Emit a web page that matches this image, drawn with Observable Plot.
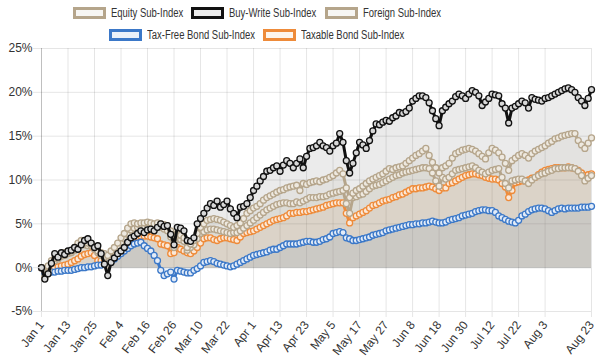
<!DOCTYPE html>
<html><head><meta charset="utf-8">
<script src="https://cdn.jsdelivr.net/npm/d3@7"></script>
<script src="https://cdn.jsdelivr.net/npm/@observablehq/plot@0.6"></script>
<style>
body{margin:0;background:#fff;font-family:"Liberation Sans",Arial,Helvetica,sans-serif;}
#legend{width:600px;height:40px;box-sizing:border-box;padding-right:86px;padding-top:2px;}
.row{display:flex;justify-content:center;height:22px;align-items:center;}
.item{display:flex;align-items:center;margin:0 4px;font-size:12px;color:#333;}
.item .txt{display:inline-block;transform:scaleX(0.79);transform-origin:0 50%;white-space:nowrap;}
.box{width:27px;height:6px;border:3px solid;margin-right:5px;}
</style></head>
<body>
<div id="legend"></div>
<div id="chart"></div>
<script>
const xTickIndex = [0,8,16,24,32,40,48,56,64,72,80,88,96,104,112,120,128,136,144,152,166];
const xTickLabels = ["Jan 1","Jan 13","Jan 25","Feb 4","Feb 16","Feb 26","Mar 10","Mar 22","Apr 1","Apr 13","Apr 23","May 5","May 17","May 27","Jun 8","Jun 18","Jun 30","Jul 12","Jul 22","Aug 3","Aug 23"];
const yTicks = [-5,0,5,10,15,20,25];

const seriesNames = ["Equity Sub-Index","Buy-Write Sub-Index","Foreign Sub-Index","Tax-Free Bond Sub-Index","Taxable Bond Sub-Index"];

const buyWrite = [
0,-1.3,-0.7,0.5,1.6,1.2,1.7,1.5,1.9,2.0,
2.3,2.1,2.6,3.1,3.3,2.8,2.3,2.5,1.6,0.4,
-0.9,0.6,1.1,1.6,1.9,2.3,2.9,3.4,3.6,3.9,
4.2,4.0,4.3,4.4,4.2,4.6,5.0,4.7,4.8,3.8,
2.6,4.6,4.5,4.2,3.1,3.0,3.4,5.0,5.6,6.2,
6.8,7.3,7.1,7.6,6.9,7.2,7.6,6.7,6.2,5.7,
6.9,7.0,7.3,8.0,8.8,9.3,9.9,10.4,11.0,11.1,
11.4,11.6,11.0,11.7,12.2,11.9,11.4,11.9,12.4,11.4,
12.7,13.6,13.7,13.9,14.3,13.9,13.7,13.3,13.9,14.2,
15.3,14.3,12.2,10.8,11.9,13.1,14.3,14.0,13.6,14.5,
15.6,16.4,16.3,16.6,16.8,16.7,17.1,17.3,17.7,17.6,
17.8,18.2,19.0,19.3,19.6,19.6,19.4,18.8,17.9,17.0,
16.2,17.9,18.3,18.7,19.0,19.5,19.8,19.6,19.3,19.8,
20.2,20.0,19.6,18.5,18.9,19.3,19.8,19.7,19.6,18.7,
18.2,16.5,18.2,18.4,18.7,19.0,18.8,18.2,19.4,19.2,
19.1,19.0,19.3,19.4,19.6,19.8,20.0,20.2,20.4,20.5,
20.3,20.0,19.4,19.0,18.5,19.3,20.3];

const equity = [
0,-1.0,0.2,0.8,1.1,1.3,1.6,1.7,1.8,1.9,
2.3,2.8,3.1,3.0,2.8,2.7,2.4,1.9,1.7,1.6,
1.4,1.9,2.3,2.8,3.4,3.9,4.5,5.0,5.1,5.0,
5.1,5.1,5.2,5.1,5.0,5.1,5.0,4.9,4.8,4.2,
3.0,3.9,3.7,3.4,2.3,2.7,3.1,3.9,4.6,5.0,
5.4,5.5,5.6,5.5,5.4,5.2,5.0,4.8,4.6,4.8,
5.1,5.6,6.2,6.5,6.8,7.0,7.3,7.7,8.0,8.2,
8.4,8.6,8.8,8.9,9.1,9.2,9.3,9.4,8.8,9.6,
9.5,9.7,9.8,9.9,9.8,10.0,10.1,10.3,10.5,10.8,
11.1,10.7,9.1,8.0,8.5,8.8,9.0,9.3,9.6,9.9,
10.1,10.3,10.5,10.7,11.0,11.3,11.2,11.4,11.5,11.6,
11.9,12.2,12.5,12.8,13.0,13.3,13.6,12.8,12.0,11.4,
10.8,11.4,11.6,11.9,12.5,13.0,13.2,13.4,13.5,13.6,
13.5,13.3,13.0,12.7,12.4,13.1,13.6,13.4,13.1,12.6,
11.9,11.1,12.2,12.5,12.8,13.0,12.8,12.5,13.0,13.3,
13.5,13.7,13.9,14.2,14.4,14.7,14.8,15.0,15.1,15.2,
15.3,15.3,14.5,14.0,13.6,14.2,14.8];

const foreign = [
0,-1.2,-0.3,0.5,0.8,1.0,1.3,1.4,1.6,1.7,
2.0,2.4,2.7,2.6,2.5,2.5,2.1,1.7,1.4,1.2,
0.3,1.1,1.8,2.3,2.9,3.3,3.8,4.3,4.5,4.6,
4.7,4.7,4.8,4.8,4.7,4.7,4.6,4.4,4.2,3.5,
2.3,3.3,3.2,3.0,2.0,2.3,2.6,3.3,3.9,4.1,
4.3,4.4,4.4,4.3,4.2,4.1,4.0,3.9,4.0,4.0,
4.2,4.5,4.8,5.1,5.4,5.7,6.0,6.3,6.6,6.8,
7.0,7.2,7.3,7.4,7.4,7.3,7.3,7.5,7.4,7.6,
7.8,8.0,8.0,8.0,8.1,8.1,8.2,8.4,8.5,8.6,
8.7,8.8,7.3,6.2,8.0,8.1,8.3,8.4,8.7,9.0,
9.3,9.4,9.5,9.7,9.9,10.1,10.3,10.5,10.6,10.8,
10.9,11.0,11.1,11.2,11.3,11.4,11.4,11.3,10.8,9.9,
9.3,10.3,10.1,10.3,10.7,11.1,11.2,11.3,11.4,11.5,
11.6,11.4,11.1,10.9,10.7,10.9,11.1,11.2,11.3,10.3,
9.6,9.1,9.9,10.0,10.1,10.1,9.9,9.6,10.0,10.3,
10.5,10.7,10.8,11.0,11.1,11.3,11.3,11.4,11.4,11.4,
11.4,11.3,11.0,10.5,9.9,10.2,10.5];

const taxFree = [
0,-0.7,-0.6,-0.5,-0.5,-0.4,-0.4,-0.3,-0.3,-0.3,
-0.2,-0.1,0,0,0.1,0.1,0.2,0.3,0.3,0.4,
0.4,0.7,1.0,1.3,1.6,1.9,2.2,2.5,2.7,2.8,
2.9,2.5,2.2,1.9,1.4,0.8,-0.3,-0.9,-0.7,-0.5,
-1.3,-0.3,-0.4,-0.5,-0.6,-0.6,-0.3,-0.1,0.2,0.6,
0.7,0.8,0.7,0.5,0.4,0.3,0.2,0.1,0.2,0.4,
0.6,0.8,1.0,1.2,1.4,1.5,1.6,1.7,1.8,2.0,
2.1,2.1,2.3,2.5,2.7,2.7,2.7,2.7,2.8,2.9,
3.0,3.0,2.9,2.9,3.0,3.2,3.3,3.5,3.9,4.0,
4.1,4.0,3.4,3.3,3.1,3.1,3.2,3.3,3.4,3.5,
3.7,3.8,3.9,4.0,4.2,4.3,4.4,4.5,4.6,4.7,
4.8,4.9,4.9,5.0,5.0,5.1,5.1,5.2,5.3,5.2,
5.1,5.1,5.2,5.4,5.5,5.6,5.7,5.9,6.0,6.1,
6.2,6.4,6.5,6.6,6.6,6.5,6.5,6.3,5.9,5.7,
5.5,5.3,5.2,5.1,5.4,5.9,6.1,6.4,6.6,6.7,
6.8,6.8,6.7,6.5,6.3,6.5,6.7,6.8,6.7,6.8,
6.8,6.8,6.8,6.9,6.9,6.9,7.0];

const taxable = [
0,-0.3,-0.2,-0.1,0,0.1,0.2,0.3,0.4,0.6,
0.8,1.0,1.3,1.5,1.6,1.7,1.4,0.8,0.8,0.7,
0.8,1.4,1.9,2.3,2.7,2.9,3.1,3.3,3.4,3.5,
3.6,3.6,3.6,3.5,3.4,3.3,2.7,2.6,2.5,1.6,
1.7,2.3,2.1,1.9,1.7,1.6,1.9,2.3,2.8,3.3,
3.4,3.4,3.2,3.1,3.3,3.4,3.4,3.3,3.2,3.1,
3.5,3.9,4.0,4.1,4.2,4.4,4.6,4.8,5.0,5.2,
5.4,5.5,5.6,5.7,5.9,6.2,6.2,6.3,6.3,6.4,
6.4,6.5,6.6,6.7,6.8,6.9,7.1,7.2,7.3,7.4,
7.4,7.4,6.2,5.1,5.7,5.9,6.1,6.3,6.5,6.8,
7.1,7.2,7.4,7.6,7.7,7.8,8.0,8.1,8.3,8.4,
8.6,8.8,9.0,9.0,9.1,9.1,9.2,9.3,9.2,9.0,
8.8,9.1,9.1,9.6,9.7,9.9,10.1,10.3,10.5,10.6,
10.7,10.7,10.6,10.5,10.3,10.2,10.1,10.1,10.0,9.6,
9.2,8.0,8.8,9.7,9.8,9.9,9.9,10.0,10.2,10.3,
10.6,10.9,11.1,11.2,11.3,11.4,11.4,11.4,11.4,11.5,
11.4,11.3,11.1,10.8,10.5,10.6,10.7];

const lineColors = ["#b5a58b","#111111","#b5a58b","#3b78c8","#ee8b3a"];
const fillColors = ["rgba(181,165,139,0.10)","rgba(0,0,0,0.08)","rgba(181,165,139,0.10)","rgba(59,120,200,0.10)","rgba(238,139,58,0.09)"];
const pointFills = ["#eee9e0","#d8d8d8","#eee9e0","#e3ecf8","#fbe8d8"];
const seriesValues = [equity, buyWrite, foreign, taxFree, taxable];

// legend
const legend = document.getElementById("legend");
[[0,1,2],[3,4]].forEach(r => {
  const row = document.createElement("div"); row.className = "row";
  r.forEach(k => {
    const it = document.createElement("div"); it.className = "item";
    const b = document.createElement("span"); b.className = "box";
    b.style.borderColor = lineColors[k]; b.style.background = fillColors[k];
    const t = document.createElement("span"); t.className = "txt"; t.textContent = seriesNames[k];
    it.append(b, t); row.append(it);
  });
  legend.append(row);
});
legend.querySelectorAll(".txt").forEach(t => {
  const w = t.getBoundingClientRect().width / 0.79;
  t.style.marginRight = (-(1 - 0.79) * w) + "px";
});

const tables = seriesValues.map((vals, k) => vals.map((v, i) => ({i, v, k})));
const labelOf = new Map(xTickIndex.map((d, j) => [d, xTickLabels[j]]));

const order = [4,3,2,0,1];
const marks = [
  Plot.gridY(yTicks.filter(d => d !== 0), {stroke: "#000", strokeOpacity: 0.1}),
  Plot.gridX(xTickIndex.filter(d => d !== 0), {stroke: "#000", strokeOpacity: 0.1}),
  Plot.ruleY([0], {stroke: "#000", strokeOpacity: 0.25}),
  Plot.ruleX([0], {stroke: "#000", strokeOpacity: 0.25})
];
for (const k of order) {
  marks.push(Plot.areaY(tables[k], {x: "i", y: "v", fill: fillColors[k]}));
}
for (const k of order) {
  marks.push(Plot.lineY(tables[k], {x: "i", y: "v", stroke: lineColors[k], strokeWidth: 3}));
  marks.push(Plot.dot(tables[k], {x: "i", y: "v", r: 3, stroke: lineColors[k], strokeWidth: 1.3, fill: pointFills[k]}));
}
marks.push(
  Plot.axisY(yTicks, {label: null, tickFormat: d => d + "%", tickSize: 8, tickPadding: 1, stroke: "#e6e6e6", color: "#333", fontSize: 12}),
  Plot.axisX(xTickIndex, {label: null, tickFormat: d => labelOf.get(d), tickRotate: -52, tickSize: 6, tickPadding: 5, stroke: "#e6e6e6", color: "#333", fontSize: 12})
);

const chart = Plot.plot({
  width: 600, height: 318,
  marginTop: 8, marginBottom: 47, marginLeft: 41, marginRight: 9,
  x: {domain: [0, 166], label: null},
  y: {domain: [-5, 25], label: null},
  style: {fontFamily: "'Liberation Sans', Arial, sans-serif", fontSize: "12px", background: "#fff", color: "#333", overflow: "visible"},
  marks
});
document.getElementById("chart").append(chart);
</script>
</body></html>
